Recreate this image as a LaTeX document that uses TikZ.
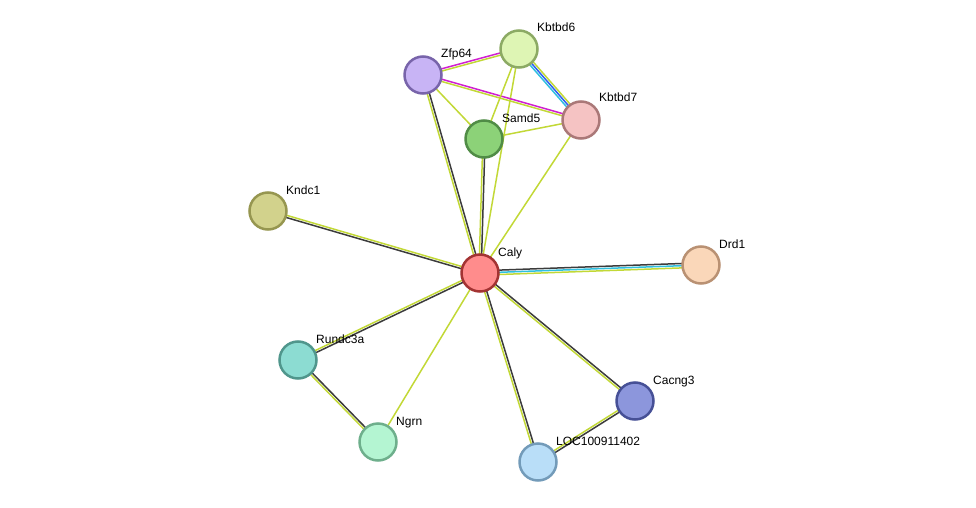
\documentclass[tikz,border=0pt]{standalone}
\usepackage{fontspec}
\setmainfont{Liberation Sans}
\usetikzlibrary{calc}
\definecolor{tm}{HTML}{C2D836}
\definecolor{dk}{HTML}{3C3C3C}
\definecolor{mg}{HTML}{D020D0}
\definecolor{bl}{HTML}{3060F0}
\definecolor{cy}{HTML}{30C0E0}
\newcommand{\edg}[4]{\draw[#4,line width=1.5pt] ($(#1)!#3!90:(#2)$) -- ($(#2)!#3!-90:(#1)$);}
\tikzset{prot/.style={circle,minimum size=37pt,inner sep=0pt,line width=2.5pt},
 lab/.style={font=\fontsize{12}{13}\selectfont,anchor=base west,inner sep=0pt}}
\begin{document}
\begin{tikzpicture}[x=1pt,y=-1pt]
\useasboundingbox (0,0) rectangle (976,508);
\coordinate (caly) at (480,273);
\coordinate (zfp) at (423,75);
\coordinate (k6) at (519,49);
\coordinate (k7) at (581,120);
\coordinate (samd) at (484,139);
\coordinate (kndc) at (268,211);
\coordinate (drd) at (701,265);
\coordinate (run) at (298,360);
\coordinate (ngrn) at (378,442);
\coordinate (loc) at (538,462);
\coordinate (cac) at (635,401);
% edges
\edg{caly}{zfp}{-1.1pt}{dk}\edg{caly}{zfp}{1.1pt}{tm}
\edg{caly}{samd}{-1.1pt}{dk}\edg{caly}{samd}{1.1pt}{tm}
\edg{caly}{k6}{0pt}{tm}
\edg{caly}{k7}{0pt}{tm}
\edg{caly}{kndc}{1.1pt}{dk}\edg{caly}{kndc}{-1.1pt}{tm}
\edg{caly}{drd}{2.2pt}{dk}\edg{caly}{drd}{0pt}{cy}\edg{caly}{drd}{-2.2pt}{tm}
\edg{caly}{run}{1.1pt}{dk}\edg{caly}{run}{-1.1pt}{tm}
\edg{caly}{ngrn}{0pt}{tm}
\edg{caly}{loc}{1.1pt}{dk}\edg{caly}{loc}{-1.1pt}{tm}
\edg{caly}{cac}{1.1pt}{dk}\edg{caly}{cac}{-1.1pt}{tm}
\edg{run}{ngrn}{1.1pt}{dk}\edg{run}{ngrn}{-1.1pt}{tm}
\edg{cac}{loc}{1.1pt}{dk}\edg{cac}{loc}{-1.1pt}{tm}
\edg{zfp}{k6}{1.1pt}{mg}\edg{zfp}{k6}{-1.1pt}{tm}
\edg{zfp}{k7}{1.1pt}{mg}\edg{zfp}{k7}{-1.1pt}{tm}
\edg{zfp}{samd}{0pt}{tm}
\edg{k6}{k7}{2.2pt}{tm}\edg{k6}{k7}{0pt}{bl}\edg{k6}{k7}{-2.2pt}{cy}
\edg{k6}{samd}{0pt}{tm}
\edg{samd}{k7}{0pt}{tm}
% nodes
\node[prot,fill=red!45!white,draw=red!55!black!80] (Caly) at (caly) {};
\node[prot,fill={rgb,255:red,200;green,180;blue,245},draw={rgb,255:red,120;green,100;blue,170}] (Zfp64) at (zfp) {};
\node[prot,fill={rgb,255:red,222;green,245;blue,180},draw={rgb,255:red,140;green,170;blue,100}] (Kbtbd6) at (k6) {};
\node[prot,fill={rgb,255:red,245;green,195;blue,195},draw={rgb,255:red,170;green,120;blue,120}] (Kbtbd7) at (k7) {};
\node[prot,fill={rgb,255:red,140;green,210;blue,120},draw={rgb,255:red,80;green,140;blue,70}] (Samd5) at (samd) {};
\node[prot,fill={rgb,255:red,210;green,210;blue,140},draw={rgb,255:red,150;green,150;blue,80}] (Kndc1) at (kndc) {};
\node[prot,fill={rgb,255:red,250;green,215;blue,185},draw={rgb,255:red,185;green,145;blue,115}] (Drd1) at (drd) {};
\node[prot,fill={rgb,255:red,140;green,220;blue,210},draw={rgb,255:red,80;green,150;blue,140}] (Rundc3a) at (run) {};
\node[prot,fill={rgb,255:red,180;green,245;blue,210},draw={rgb,255:red,110;green,175;blue,140}] (Ngrn) at (ngrn) {};
\node[prot,fill={rgb,255:red,185;green,222;blue,248},draw={rgb,255:red,115;green,155;blue,185}] (LOC) at (loc) {};
\node[prot,fill={rgb,255:red,140;green,150;blue,220},draw={rgb,255:red,70;green,80;blue,150}] (Cacng3) at (cac) {};
% labels
\node[lab] (lCaly) at (498,256) {Caly};
\node[lab] (lZfp) at (441,58) {Zfp64};
\node[lab] (lK6) at (537,32) {Kbtbd6};
\node[lab] (lK7) at (599,102) {Kbtbd7};
\node[lab] (lS) at (502,122) {Samd5};
\node[lab] (lKn) at (286,194) {Kndc1};
\node[lab] (lD) at (719,248) {Drd1};
\node[lab] (lR) at (316,343) {Rundc3a};
\node[lab] (lN) at (396,425) {Ngrn};
\node[lab] (lL) at (556,445) {LOC100911402};
\node[lab] (lC) at (653,384) {Cacng3};
\end{tikzpicture}
\end{document}
